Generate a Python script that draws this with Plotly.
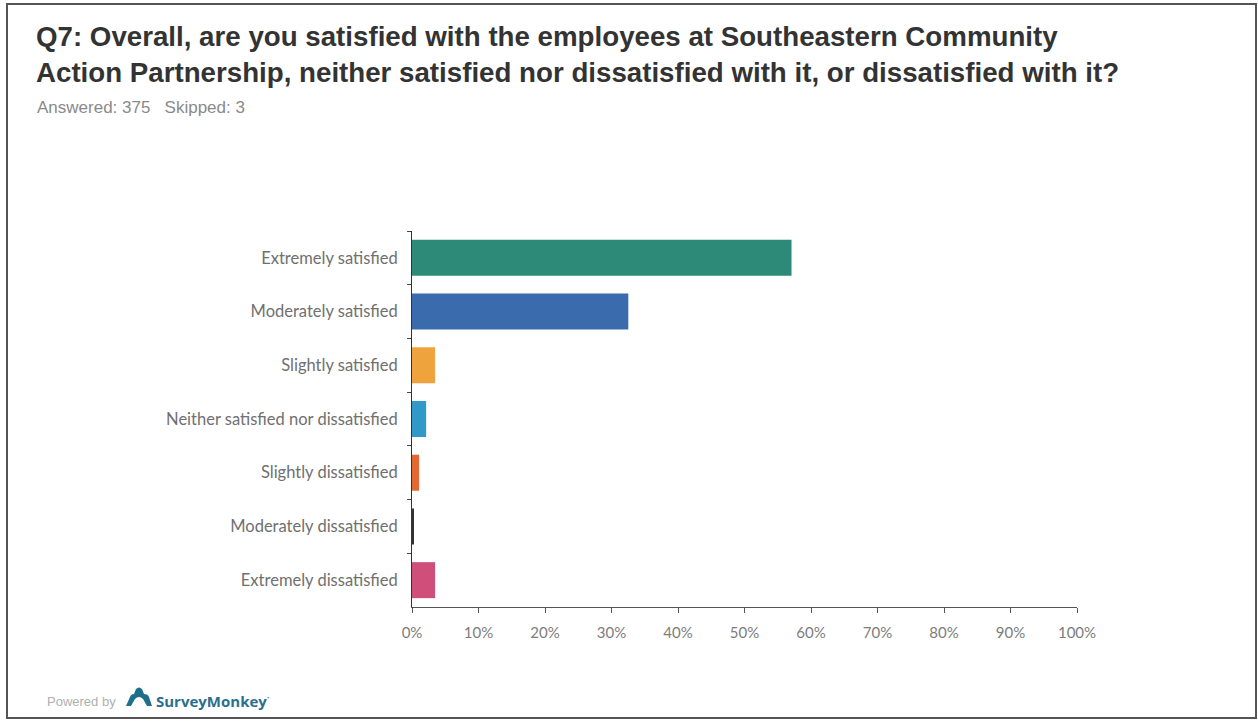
import plotly.graph_objects as go

# Survey responses for Q7 (percent of 375 answered)
categories = [
    "Extremely satisfied",
    "Moderately satisfied",
    "Slightly satisfied",
    "Neither satisfied nor dissatisfied",
    "Slightly dissatisfied",
    "Moderately dissatisfied",
    "Extremely dissatisfied",
]
percent = [57.07, 32.53, 3.47, 2.13, 1.07, 0.27, 3.47]
bar_colors = ["#2e8a78", "#3a6bad", "#eea33c", "#3199c9", "#e2692f", "#333333", "#cf4f7a"]
x_ticks = [0, 10, 20, 30, 40, 50, 60, 70, 80, 90, 100]

title_lines = [
    "Q7: Overall, are you satisfied with the employees at Southeastern Community",
    "Action Partnership, neither satisfied nor dissatisfied with it, or dissatisfied with it?",
]
subtitle = "Answered: 375&nbsp;&nbsp;&nbsp;Skipped: 3"

W, H = 1258, 721
PL, PR, PT, PB = 412, 1077, 231, 607  # plot area edges in pixels


def fx(xp):
    """Pixel x -> paper x (paper spans the plot area)."""
    return (xp - PL) / (PR - PL)


def fy(yp):
    """Pixel y (from top) -> paper y."""
    return (PB - yp) / (PB - PT)


fig = go.Figure(
    go.Bar(
        x=percent,
        y=categories,
        orientation="h",
        marker=dict(color=bar_colors, line=dict(width=0)),
        width=0.67,
        hovertemplate="%{y}: %{x:.2f}%<extra></extra>",
    )
)

fig.update_layout(
    width=W,
    height=H,
    margin=dict(l=PL, r=W - PR, t=PT, b=H - PB),
    paper_bgcolor="white",
    plot_bgcolor="white",
    showlegend=False,
    font=dict(family="Lato, 'Open Sans', sans-serif", color="#6a6a6a", size=14),
    xaxis=dict(
        range=[0, 100],
        tickvals=x_ticks,
        ticktext=[f"{v}%" for v in x_ticks],
        showgrid=False,
        zeroline=False,
        showline=True,
        linecolor="#555555",
        linewidth=1,
        ticks="outside",
        ticklen=5,
        tickcolor="#555555",
        tickfont=dict(size=15, color="#7d7d7d"),
        ticklabelstandoff=7,
    ),
    yaxis=dict(
        categoryorder="array",
        categoryarray=categories,
        range=[6.5, -0.5],
        showgrid=False,
        zeroline=False,
        showline=True,
        linecolor="#333333",
        linewidth=1,
        ticks="outside",
        tickson="boundaries",
        ticklen=4,
        tickcolor="#444444",
        tickfont=dict(size=16.5, color="#707070"),
        ticklabelstandoff=10,
    ),
)

# Title block
fig.add_annotation(
    x=fx(34), y=fy(19), xref="paper", yref="paper",
    xanchor="left", yanchor="top", align="left", showarrow=False,
    text="<b>" + "<br>".join(title_lines) + "</b>",
    font=dict(family="Liberation Sans, Arial, sans-serif", size=27.7, color="#333333"),
)
fig.add_annotation(
    x=fx(35), y=fy(107), xref="paper", yref="paper",
    xanchor="left", yanchor="middle", showarrow=False,
    text=subtitle,
    font=dict(family="Liberation Sans, Arial, sans-serif", size=17, color="#8a8a8a"),
)

# Outer frame
fig.add_shape(
    type="rect", xref="paper", yref="paper",
    x0=fx(7), x1=fx(1256), y0=fy(718), y1=fy(4),
    line=dict(color="#555555", width=2), fillcolor="rgba(0,0,0,0)",
)

# Footer branding
fig.add_annotation(
    x=fx(45), y=fy(701), xref="paper", yref="paper",
    xanchor="left", yanchor="middle", showarrow=False,
    text="Powered by",
    font=dict(family="Liberation Sans, Arial, sans-serif", size=13, color="#b0b0b0"),
)


def pt(xp, yp):
    return f"{fx(xp):.5f},{fy(yp):.5f}"


icon_path = (
    "M " + pt(126, 706)
    + " L " + pt(130, 697)
    + " Q " + pt(131, 694) + " " + pt(134, 694)
    + " L " + pt(136, 689)
    + " Q " + pt(139, 686) + " " + pt(142, 689)
    + " L " + pt(144, 694)
    + " Q " + pt(148, 694) + " " + pt(149, 697)
    + " L " + pt(152, 706)
    + " L " + pt(147, 706)
    + " L " + pt(143, 699)
    + " Q " + pt(139, 695) + " " + pt(135, 699)
    + " L " + pt(131, 706)
    + " Z"
)
fig.add_shape(
    type="path", xref="paper", yref="paper", path=icon_path,
    fillcolor="#1f6f8b", line=dict(width=0),
)
fig.add_annotation(
    x=fx(154), y=fy(700), xref="paper", yref="paper",
    xanchor="left", yanchor="middle", showarrow=False,
    text="<b>SurveyMonkey</b><sup>·</sup>",
    font=dict(family="Open Sans, Liberation Sans, sans-serif", size=15, color="#2b6f8e"),
)

fig.write_html("out.html")
